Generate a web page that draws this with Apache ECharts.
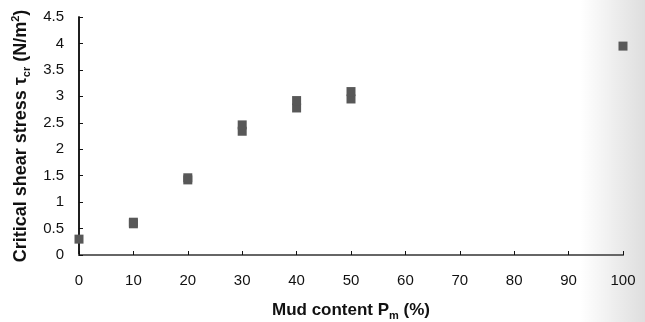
<!DOCTYPE html>
<html>
<head>
<meta charset="utf-8">
<script src="https://cdn.jsdelivr.net/npm/echarts@6/dist/echarts.min.js"></script>
<style>html,body{margin:0;padding:0;background:#fff}#c{width:645px;height:322px}</style>
</head>
<body>
<div id="c"></div>
<script>
const mudContent = [0, 10, 10, 20, 20, 30, 30, 40, 40, 50, 50, 100];
const shearStress = [0.30, 0.59, 0.62, 1.42, 1.46, 2.34, 2.46, 2.78, 2.92, 2.95, 3.09, 3.95];
const xTicks = [0, 10, 20, 30, 40, 50, 60, 70, 80, 90, 100];
const yTicks = [0, 0.5, 1, 1.5, 2, 2.5, 3, 3.5, 4, 4.5];

const points = mudContent.map((x, i) => [x, shearStress[i]]);
const chart = echarts.init(document.getElementById('c'), null, {renderer: 'canvas'});
const font = 'Liberation Sans, Arial, sans-serif';
function rich(size) {
  return {
    b: {fontSize: size, fontWeight: 'bold', fontFamily: font, color: '#111', verticalAlign: 'middle', lineHeight: 22},
    s: {fontSize: 11, fontWeight: 'bold', fontFamily: font, color: '#111', verticalAlign: 'bottom', lineHeight: 11},
    p: {fontSize: 11, fontWeight: 'bold', fontFamily: font, color: '#111', verticalAlign: 'top', lineHeight: 11}
  };
}
chart.setOption({
  animation: false,
  backgroundColor: '#fff',
  graphic: [{
    type: 'rect', z: -10, silent: true,
    shape: {x: 580, y: 0, width: 65, height: 322},
    style: {fill: new echarts.graphic.LinearGradient(0, 0, 1, 0, [
      {offset: 0, color: 'rgba(0,0,0,0)'},
      {offset: 1, color: 'rgba(0,0,0,0.13)'}
    ])}
  }],
  grid: {left: 79, right: 22, top: 17, bottom: 67, show: false, outerBoundsMode: 'none', containLabel: false},
  xAxis: [{
    type: 'value', min: 0, max: 100, interval: 10,
    axisLine: {lineStyle: {color: '#111', width: 1.5}},
    axisTick: {inside: true, length: 4, lineStyle: {color: '#111'}},
    splitLine: {show: false},
    axisLabel: {color: '#111', fontSize: 15, fontFamily: font, margin: 18},
    name: '{b|Mud content P}{s|m}{b| (%)}',
    nameLocation: 'middle', nameGap: 44,
    nameTextStyle: {rich: rich(17)}
  }, {
    type: 'value', position: 'top', min: 0, max: 100,
    axisLine: {show: true, lineStyle: {color: '#666', width: 2}},
    axisTick: {show: false}, axisLabel: {show: false}, splitLine: {show: false}
  }],
  yAxis: [{
    type: 'value', min: 0, max: 4.5, interval: 0.5,
    axisLine: {show: true, lineStyle: {color: '#111', width: 1.5}},
    axisTick: {show: true, inside: true, length: 4, lineStyle: {color: '#111'}},
    splitLine: {show: false},
    axisLabel: {color: '#111', fontSize: 15, fontFamily: font, margin: 15},
    name: '{b|Critical shear stress τ}{s|cr}{b| (N/m}{p|2}{b|)}',
    nameLocation: 'middle', nameGap: 33, nameRotate: 90,
    nameTextStyle: {rich: rich(18)}
  }, {
    type: 'value', position: 'right', min: 0, max: 4.5,
    axisLine: {show: true, lineStyle: {color: '#111', width: 1.5}},
    axisTick: {show: false}, axisLabel: {show: false}, splitLine: {show: false}
  }],
  series: [{
    type: 'scatter',
    data: points,
    symbol: 'rect',
    symbolSize: [9, 9],
    clip: false,
    itemStyle: {color: '#585858', borderWidth: 0, opacity: 1}
  }]
});
</script>
</body>
</html>
